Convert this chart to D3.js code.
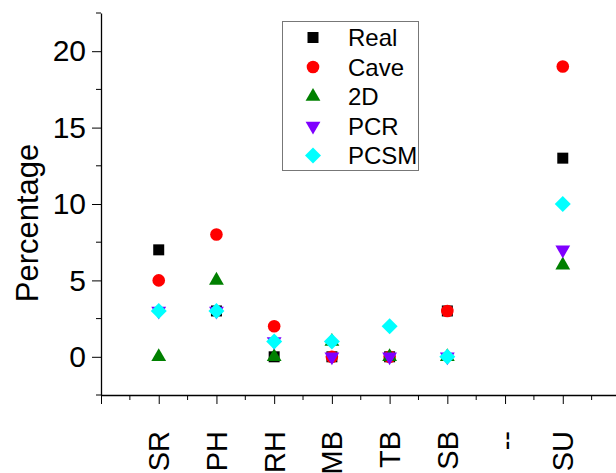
<!DOCTYPE html>
<html>
<head>
<meta charset="utf-8">
<script src="https://cdn.jsdelivr.net/npm/d3@7"></script>
<style>
	body { margin: 0; background: #fff; }
	svg { display: block; font-family: "Liberation Sans", Arial, sans-serif; }
</style>
</head>
<body>
<div id="chart"></div>
<script>
// categories along the x axis (position 1..8)
var categories = ["SR", "PH", "RH", "MB", "TB", "SB", "--", "SU"];
var seriesNames = ["Real", "Cave", "2D", "PCR", "PCSM"];
var seriesColors = ["#000000", "#ff0000", "#008000", "#7f00ff", "#00ffff"];
// percentage values per series, null = no point
var realValues = [7, 3, 0, 0, 0, 3, null, 13];
var caveValues = [5, 8, 2, 0, 0, 3, null, 19];
var twoDValues = [0, 5, 0, 1, 0, 0, null, 6];
var pcrValues  = [3, 3, 1, 0, 0, 0, null, 7];
var pcsmValues = [3, 3, 1, 1, 2, 0, null, 10];
var yTicks = [0, 5, 10, 15, 20];

var allValues = [realValues, caveValues, twoDValues, pcrValues, pcsmValues];

var width = 616, height = 473;
var svg = d3.select("#chart").append("svg")
	.attr("width", width)
	.attr("height", height);

var x = d3.scaleLinear().domain([0, 9]).range([101, 620.5]);
var y = d3.scaleLinear().domain([-2.5, 22.5]).range([395, 13]);

// symbol generators, one per series
function symbolFor(i) {
	var sym = d3.symbol();
	if (i == 0) return sym.type(d3.symbolSquare).size(121)();
	if (i == 1) return sym.type(d3.symbolCircle).size(125)();
	if (i == 2) return sym.type(d3.symbolTriangle).size(95)();
	if (i == 3) return sym.type(d3.symbolTriangle).size(95)();
	return sym.type(d3.symbolSquare).size(128)();
}
function symbolRotation(i) {
	if (i == 3) return 180;
	if (i == 4) return 45;
	return 0;
}

// y axis
var yAxis = d3.axisLeft(y).tickValues(yTicks).tickSize(9).tickPadding(6).tickSizeOuter(0);
var gy = svg.append("g").attr("transform", "translate(101,0)").call(yAxis);
gy.selectAll(".tick text").attr("font-size", 30).attr("font-family", "Liberation Sans, Arial, sans-serif").attr("fill", "#000");
gy.selectAll(".tick line").attr("stroke", "#000");
gy.select(".domain").attr("stroke", "#000").attr("stroke-width", 1.3);
// minor y ticks
svg.append("g").selectAll("line")
	.data([-2.5, 2.5, 7.5, 12.5, 17.5, 22.5])
	.enter().append("line")
	.attr("x1", 101).attr("x2", 96)
	.attr("y1", function (d) { return y(d); })
	.attr("y2", function (d) { return y(d); })
	.attr("stroke", "#000");

// x axis
var xAxis = d3.axisBottom(x).tickValues(d3.range(0, 10)).tickSize(9).tickFormat("").tickSizeOuter(0);
var gx = svg.append("g").attr("transform", "translate(0,395)").call(xAxis);
gx.selectAll(".tick line").attr("stroke", "#000");
gx.select(".domain").attr("stroke", "#000").attr("stroke-width", 1.3);
svg.append("g").selectAll("line")
	.data(d3.range(0.5, 9, 1))
	.enter().append("line")
	.attr("x1", function (d) { return x(d); })
	.attr("x2", function (d) { return x(d); })
	.attr("y1", 395).attr("y2", 400)
	.attr("stroke", "#000");

// category labels, rotated
svg.append("g").selectAll("text")
	.data(categories)
	.enter().append("text")
	.attr("transform", function (d, i) { return "translate(" + x(i + 1) + ",431) rotate(-90)"; })
	.attr("text-anchor", "end")
	.attr("dy", "0.36em")
	.attr("font-size", 29)
	.text(function (d) { return d; });

// y title
svg.append("text")
	.attr("transform", "translate(38,223) rotate(-90)")
	.attr("text-anchor", "middle")
	.attr("font-size", 31)
	.text("Percentage");

// points, drawn series by series
for (var s = 0; s < allValues.length; s++) {
	var pts = [];
	for (var i = 0; i < allValues[s].length; i++) {
		if (allValues[s][i] != null) pts.push({ pos: i + 1, v: allValues[s][i] });
	}
	svg.append("g").selectAll("path")
		.data(pts)
		.enter().append("path")
		.attr("d", symbolFor(s))
		.attr("fill", seriesColors[s])
		.attr("transform", function (d) {
			return "translate(" + x(d.pos) + "," + y(d.v) + ") rotate(" + symbolRotation(s) + ")";
		});
}

// legend
var legend = svg.append("g");
legend.append("rect")
	.attr("x", 282.5).attr("y", 21.5)
	.attr("width", 136).attr("height", 149)
	.attr("fill", "#fff").attr("stroke", "#777").attr("stroke-width", 1);
var rows = legend.selectAll("g.row")
	.data(seriesNames)
	.enter().append("g")
	.attr("transform", function (d, i) { return "translate(0," + (37.5 + i * 29.5) + ")"; });
rows.append("path")
	.attr("d", function (d, i) { return symbolFor(i); })
	.attr("fill", function (d, i) { return seriesColors[i]; })
	.attr("transform", function (d, i) { return "translate(313,0) rotate(" + symbolRotation(i) + ")"; });
rows.append("text")
	.attr("x", 348)
	.attr("dy", "0.36em")
	.attr("font-size", 24)
	.text(function (d) { return d; });
</script>
</body>
</html>
